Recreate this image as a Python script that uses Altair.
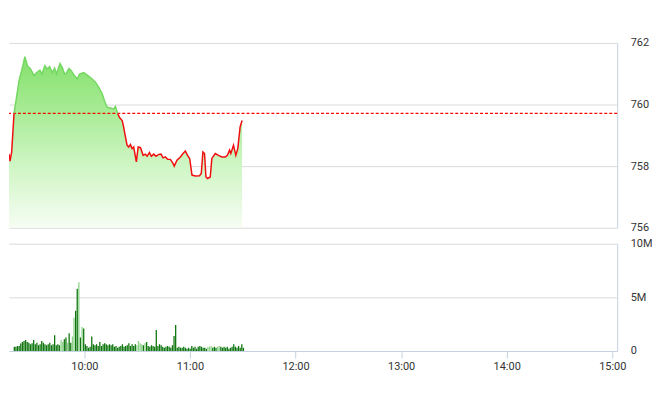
import altair as alt
import pandas as pd
import numpy as np

REF = 759.71  # reference (previous close) level

# price series: minutes after 09:00, index value
price_time = [20.0, 20.6, 21.5, 22.8, 23.8, 25.6, 27.5, 28.9, 30.3, 32.1,
              34.0, 35.5, 37.3, 38.4, 40.1, 41.4, 42.7, 44.2, 45.5, 46.6,
              48.5, 49.8, 51.1, 52.0, 53.5, 54.8, 56.3, 58.2, 59.4, 61.8,
              64.1, 66.5, 68.4, 70.2, 72.1, 73.6, 74.9, 76.7, 78.6, 79.5,
              80.8, 81.9, 83.3, 84.1, 85.1, 86.0, 86.9, 87.9, 88.8, 89.7,
              91.2, 92.2, 93.5, 95.0, 96.2, 97.2, 98.5, 99.6, 100.9, 102.2,
              103.7, 105.0, 106.1, 107.4, 108.7, 110.2, 111.7, 112.4, 113.9, 115.8,
              117.3, 118.6, 119.8, 121.0, 122.3, 124.1, 126.5, 127.5, 128.4, 129.3,
              130.1, 131.0, 132.5, 133.4, 135.3, 137.1, 139.0, 140.9, 142.1, 143.3,
              144.0, 145.5, 146.8, 147.9, 149.2, 150.3]
price_value = [758.39, 758.16, 758.46, 759.70, 760.08, 760.77, 761.20, 761.55, 761.26, 761.15,
               760.94, 761.04, 761.12, 760.99, 761.26, 761.15, 761.23, 761.04, 761.18, 760.99,
               761.33, 761.20, 760.99, 761.01, 761.17, 761.10, 760.96, 760.83, 760.99, 761.04,
               760.94, 760.83, 760.72, 760.56, 760.35, 760.08, 759.91, 759.89, 759.86, 759.94,
               759.70, 759.57, 759.48, 759.27, 758.95, 758.68, 758.62, 758.70, 758.57, 758.62,
               758.14, 758.62, 758.60, 758.35, 758.39, 758.32, 758.44, 758.32, 758.39, 758.32,
               758.38, 758.39, 758.27, 758.30, 758.22, 758.22, 758.09, 758.00, 758.19, 758.30,
               758.41, 758.49, 758.35, 758.25, 757.71, 757.68, 757.69, 757.76, 758.46, 758.41,
               757.65, 757.60, 757.65, 758.25, 758.41, 758.35, 758.30, 758.30, 758.35, 758.52,
               758.41, 758.68, 758.35, 758.57, 759.27, 759.48]

# volume per bar, in millions
vol_m = [0.40, 0.40, 0.47, 0.47, 0.70, 0.84, 0.93, 1.03, 0.84, 0.78,
         0.62, 0.72, 1.03, 0.62, 0.78, 0.53, 0.62, 0.93, 0.78, 0.62,
         0.53, 0.62, 0.78, 0.53, 0.62, 1.46, 0.53, 0.62, 0.53, 1.03,
         0.84, 1.09, 1.25, 0.78, 1.65, 0.78, 1.34, 3.10, 3.74, 5.80,
         6.40, 1.25, 2.24, 2.10, 0.62, 0.47, 0.31, 0.40, 1.34, 0.62,
         0.53, 0.62, 0.47, 0.84, 0.47, 0.62, 0.72, 0.62, 0.53, 0.62,
         0.53, 0.62, 0.40, 0.47, 0.31, 0.40, 0.47, 0.62, 0.40, 0.47,
         0.53, 0.72, 0.47, 0.62, 0.47, 0.62, 0.53, 0.93, 0.72, 0.62,
         0.53, 0.72, 0.84, 0.47, 0.40, 0.53, 0.47, 0.40, 1.96, 0.47,
         0.62, 0.53, 0.40, 0.31, 0.40, 0.47, 0.40, 0.31, 0.53, 1.40,
         2.43, 0.31, 0.40, 0.31, 0.31, 0.40, 0.31, 0.22, 0.31, 0.22,
         0.47, 0.31, 0.40, 0.22, 0.40, 0.47, 0.40, 0.31, 0.31, 0.22,
         0.40, 0.40, 0.47, 0.31, 0.40, 0.31, 0.40, 0.47, 0.40, 0.31,
         0.40, 0.31, 0.40, 0.22, 0.31, 0.40, 0.62, 0.40, 0.31, 0.47,
         0.31, 0.62, 0.31]
vol_light = [29, 30, 33, 36, 37, 40, 42, 76, 77, 78, 79, 81, 120, 121, 122, 126, 127]

x_ticks = [60, 120, 180, 240, 300, 360]
price_ticks = [756, 758, 760, 762]
vol_ticks = [0, 5000000, 10000000]

GREEN_LINE = "#74d862"
RED_LINE = "#f01010"
DARK_BAR = "#0f760f"
LIGHT_BAR = "#8ed28a"

# ---- build line segments coloured by side of reference ----
rows = []
seg = 0
prev = None
for t, v in zip(price_time, price_value):
    above = v >= REF
    if prev is not None and prev[2] != above:
        pt, pv, pa = prev
        ct = pt + (REF - pv) / (v - pv) * (t - pt)
        rows.append(dict(t=ct, v=REF, seg=seg, col=GREEN_LINE if pa else RED_LINE))
        seg += 1
        rows.append(dict(t=ct, v=REF, seg=seg, col=GREEN_LINE if above else RED_LINE))
    rows.append(dict(t=t, v=v, seg=seg, col=GREEN_LINE if above else RED_LINE))
    prev = (t, v, above)
line_df = pd.DataFrame(rows)
area_df = pd.DataFrame({"t": price_time, "v": price_value})
ref_df = pd.DataFrame({"v": [REF]})

n = len(vol_m)
vol_df = pd.DataFrame({
    "t": np.linspace(20.2, 150.4, n),
    "vol": [x * 1e6 for x in vol_m],
    "c": [LIGHT_BAR if i in vol_light else DARK_BAR for i in range(n)],
})

x_scale = alt.Scale(domain=[20, 360], nice=False, zero=False)
p_scale = alt.Scale(domain=[756, 762], nice=False, zero=False)

x_none = alt.X("t:Q", scale=x_scale, axis=None)
y_price = alt.Y("v:Q", scale=p_scale, title=None,
                axis=alt.Axis(orient="right", values=price_ticks, ticks=False,
                              labelPadding=13, domain=True, grid=True))

area = alt.Chart(area_df).mark_area(
    clip=True,
    color=alt.Gradient(
        gradient="linear",
        stops=[alt.GradientStop(color="#84e06c", offset=0),
               alt.GradientStop(color="#a6eb93", offset=0.3),
               alt.GradientStop(color="#cdf5c2", offset=0.62),
               alt.GradientStop(color="#f6fdf3", offset=1)],
        x1=1, x2=1, y1=0, y2=1),
).encode(x=x_none, y=y_price, y2=alt.datum(756))

ref_rule = alt.Chart(ref_df).mark_rule(
    strokeDash=[3, 2], strokeWidth=1.3, opacity=1
).encode(y=y_price, color=alt.value("#ff0000"))

line = alt.Chart(line_df).mark_line(clip=True, strokeWidth=1.5).encode(
    x=x_none, y=y_price, detail="seg:N",
    color=alt.Color("col:N", scale=None), order="t:Q")

price_chart = alt.layer(area, ref_rule, line).properties(width=612, height=186)

bars = alt.Chart(vol_df).mark_bar(size=1.3, clip=True).encode(
    x=alt.X("t:Q", scale=x_scale, title=None,
            axis=alt.Axis(values=x_ticks, grid=False, tickSize=7, labelPadding=3,
                          labelExpr="(9 + datum.value / 60) + ':00'")),
    y=alt.Y("vol:Q", scale=alt.Scale(domain=[0, 10000000], nice=False), title=None,
            axis=alt.Axis(orient="right", values=vol_ticks, ticks=False, labelPadding=13,
                          grid=True,
                          labelExpr="datum.value == 0 ? '0' : (datum.value / 1000000) + 'M'")),
    color=alt.Color("c:N", scale=None),
).properties(width=612, height=108)

chart = alt.vconcat(price_chart, bars, spacing=16, bounds="flush").properties(
    padding={"left": 0, "top": 28, "right": 0, "bottom": 0}
).configure_view(stroke=None).configure_axis(
    labelFont="Roboto",
    labelFontSize=11,
    labelColor="#333333",
    gridColor="#dadada",
    gridWidth=1,
    domainColor="#c4d2e2",
    domainWidth=1,
    tickColor="#c4d2e2",
)

chart.save("out.html", embed_options={"renderer": "svg", "actions": False})
